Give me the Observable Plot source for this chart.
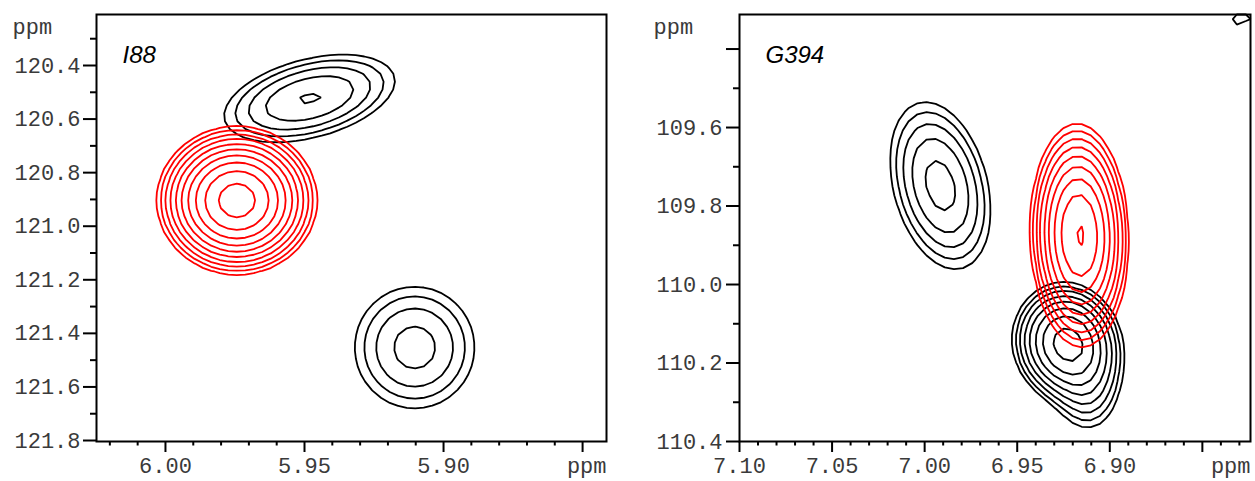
<!DOCTYPE html>
<html><head><meta charset="utf-8">
<script src="https://cdn.jsdelivr.net/npm/d3@7"></script>
<script src="https://cdn.jsdelivr.net/npm/@observablehq/plot@0.6"></script>
<style>
html,body{margin:0;padding:0;background:#fff;}
#row{display:flex;width:1255px;height:481px;overflow:hidden;}
#row svg{display:block;}
</style></head><body><div id="row"></div>
<script>
// ---------- DATA ----------
// contour levels (base 1, factor 1.4)
const contourLevels = [1, 1.4, 1.96, 2.744, 3.8416, 5.378, 7.53, 10.54, 14.76, 20.66, 28.93];

// Panel I88: peak components (ppm; 1H = x, 15N = y)
const i88Black = [
  {peak: "a", x: 5.9482, y: 120.523, sx: 0.0185, sy: 0.0982, rho: 0.4, amp: 3.95},
  {peak: "b", x: 5.9104, y: 121.453, sx: 0.01418, sy: 0.1497, rho: 0.0, amp: 3.15}
];
const i88Red = [
  {peak: "r", x: 5.9743, y: 120.904, sx: 0.01138, sy: 0.1093, rho: 0.0, amp: 24.4}
];
// Panel G394
const g394Black = [
  {peak: "a", x: 6.9915, y: 109.748, sx: 0.01571, sy: 0.1237, rho: -0.3, amp: 4.39},
  {peak: "b", x: 6.9234, y: 110.148, sx: 0.01307, sy: 0.0686, rho: -0.05, amp: 12},
  {peak: "b", x: 6.9116, y: 110.257, sx: 0.0108, sy: 0.0764, rho: 0.0, amp: 2.5},
  {peak: "c", x: 6.830, y: 109.251, sx: 0.01026, sy: 0.1223, rho: 0.0, amp: 1.3}
];
const g394Red = [
  {peak: "r", x: 6.9164, y: 109.875, sx: 0.01134, sy: 0.1218, rho: -0.05, amp: 15.2}
];

// axes
const i88XDomain = [6.0248, 5.8414];
const i88YDomain = [121.8037, 120.2096];
const i88XMajor = [6.00, 5.95, 5.90, 5.85];
const i88XLabels = ["6.00", "5.95", "5.90", ""];
const i88XMinor = [6.02, 6.01, 5.99, 5.98, 5.97, 5.96, 5.94, 5.93, 5.92, 5.91, 5.89, 5.88, 5.87, 5.86];
const i88YMajor = [120.4, 120.6, 120.8, 121.0, 121.2, 121.4, 121.6, 121.8];
const i88YLabels = ["120.4", "120.6", "120.8", "121.0", "121.2", "121.4", "121.6", "121.8"];
const i88YMinor = [120.3, 120.5, 120.7, 120.9, 121.1, 121.3, 121.5, 121.7];

const g394XDomain = [7.10, 6.824];
const g394YDomain = [110.4, 109.312];
const g394XMajor = [7.10, 7.05, 7.00, 6.95, 6.90, 6.85];
const g394XLabels = ["7.10", "7.05", "7.00", "6.95", "6.90", ""];
const g394XMinor = [7.09, 7.08, 7.07, 7.06, 7.04, 7.03, 7.02, 7.01, 6.99, 6.98, 6.97, 6.96, 6.94, 6.93, 6.92, 6.91, 6.89, 6.88, 6.87, 6.86, 6.84, 6.83];
const g394YMajor = [109.4, 109.6, 109.8, 110.0, 110.2, 110.4];
const g394YLabels = ["", "109.6", "109.8", "110.0", "110.2", "110.4"];
const g394YMinor = [109.5, 109.7, 109.9, 110.1, 110.3];

// ---------- DRAWING ----------
function gauss(p, x, y) {
  const dx = (x - p.x) / p.sx, dy = (y - p.y) / p.sy;
  const q = (dx * dx - 2 * p.rho * dx * dy + dy * dy) / (1 - p.rho * p.rho);
  return p.amp * Math.exp(-q / 2);
}
function contourMarks(components, color, xd, yd, gw, gh) {
  const groups = d3.group(components, d => d.peak);
  return Array.from(groups.values(), comps => Plot.contour({
    value: (x, y) => comps.reduce((s, p) => s + gauss(p, x, y), 0),
    x1: xd[0], x2: xd[1], y1: yd[0], y2: yd[1],
    width: gw, height: gh,
    thresholds: contourLevels,
    stroke: color, strokeWidth: 1.8, fill: "none"
  }));
}
const MONO = "'Liberation Mono', 'Courier New', monospace";
const LABEL = "#3a3a3a";

function panel(o) {
  const xFmt = new Map(o.xMajor.map((v, i) => [v, o.xLabels[i]]));
  const yFmt = new Map(o.yMajor.map((v, i) => [v, o.yLabels[i]]));
  return Plot.plot({
    width: o.width, height: 481,
    marginLeft: o.marginLeft, marginRight: o.marginRight, marginTop: 14, marginBottom: 40,
    x: {domain: o.xDomain},
    y: {domain: o.yDomain},
    style: {fontFamily: MONO, fontSize: "22px", background: "white", color: "black", overflow: "visible"},
    marks: [
      ...contourMarks(o.black, "black", o.xDomain, o.yDomain, o.gw, o.gh),
      ...contourMarks(o.red, "#ff0000", o.xDomain, o.yDomain, o.gw, o.gh),
      Plot.axisX(o.xMinor, {anchor: "bottom", tickSize: 4.5, strokeWidth: 2, tickFormat: () => "", label: null}),
      Plot.axisX(o.xMajor, {anchor: "bottom", tickSize: 11, tickPadding: 5, strokeWidth: 2, fill: LABEL,
        tickFormat: d => xFmt.get(d), label: null, fontSize: 22}),
      Plot.axisY(o.yMinor, {anchor: "left", tickSize: 6, strokeWidth: 2, tickFormat: () => "", label: null}),
      Plot.axisY(o.yMajor, {anchor: "left", tickSize: 13, tickPadding: o.yPad, strokeWidth: 2, fill: LABEL,
        tickFormat: d => yFmt.get(d), label: null, fontSize: 22}),
      Plot.frame({stroke: "black", strokeWidth: 2}),
      Plot.text(["ppm"], {frameAnchor: "bottom-right", textAnchor: "end", lineAnchor: "top", dy: 16,
        fill: LABEL, fontFamily: MONO, fontSize: 22}),
      Plot.text(["ppm"], {frameAnchor: "top-left", textAnchor: "start", lineAnchor: "middle", dx: o.ppmDx, dy: 12,
        fill: LABEL, fontFamily: MONO, fontSize: 22}),
      Plot.text([o.title], {frameAnchor: "top-left", textAnchor: "start", lineAnchor: "top", dx: 26, dy: 31,
        fill: "black", fontFamily: "'Liberation Sans', Arial, sans-serif", fontStyle: "italic", fontSize: 24})
    ]
  });
}

const row = document.getElementById("row");
row.append(panel({
  width: 627, marginLeft: 96, marginRight: 21, yPad: 3, ppmDx: -84, title: "I88", gw: 60, gh: 54,
  xDomain: i88XDomain, yDomain: i88YDomain, xMajor: i88XMajor, xLabels: i88XLabels, xMinor: i88XMinor,
  yMajor: i88YMajor, yLabels: i88YLabels, yMinor: i88YMinor, black: i88Black, red: i88Red
}));
row.append(panel({
  width: 628, marginLeft: 112, marginRight: 5, yPad: 4, ppmDx: -86, title: "G394", gw: 56, gh: 46,
  xDomain: g394XDomain, yDomain: g394YDomain, xMajor: g394XMajor, xLabels: g394XLabels, xMinor: g394XMinor,
  yMajor: g394YMajor, yLabels: g394YLabels, yMinor: g394YMinor, black: g394Black, red: g394Red
}));
</script></body></html>
